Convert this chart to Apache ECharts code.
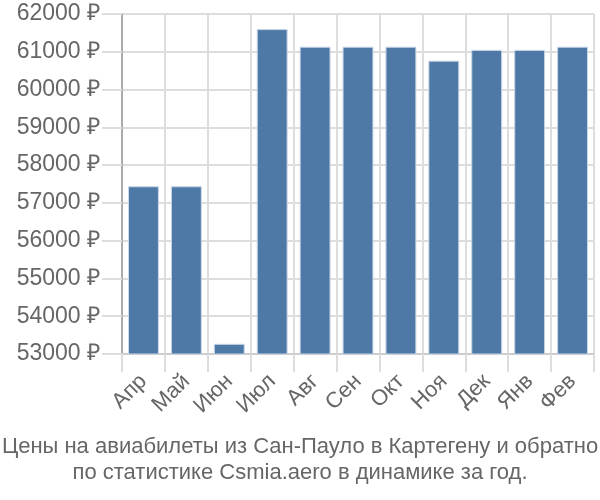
<!DOCTYPE html>
<html><head><meta charset="utf-8">
<script src="https://cdn.jsdelivr.net/npm/echarts@6/dist/echarts.min.js"></script>
<style>html,body{margin:0;padding:0;background:#fff}#c{width:600px;height:500px}</style>
</head><body><div id="c"></div>
<script>
const categories = ['Апр','Май','Июн','Июл','Авг','Сен','Окт','Ноя','Дек','Янв','Фев'];
const prices = [57440, 57440, 53270, 61600, 61135, 61135, 61135, 60765, 61050, 61050, 61135];
const titleLines = ['Цены на авиабилеты из Сан-Пауло в Картегену и обратно','по статистике Csmia.aero в динамике за год.'];
const yMin = 53000, yMax = 62000, yStep = 1000;

const chart = echarts.init(document.getElementById('c'), null, {renderer:'canvas'});
chart.setOption({
  animation:false,
  title:{
    text: titleLines.join('\n'),
    left: 300, top: 434, textAlign:'center', padding:0,
    textStyle:{fontFamily:'Liberation Sans, Arial, sans-serif', fontSize:22, fontWeight:'normal', color:'#666', lineHeight:26}
  },
  grid:{left:122, right:6, top:14, bottom:146, containLabel:false},
  xAxis:{
    type:'category', data:categories, boundaryGap:true,
    axisLine:{show:true, lineStyle:{color:'#ccc', width:2}},
    axisTick:{show:true, length:18, alignWithLabel:false, lineStyle:{color:'#ddd', width:2}},
    splitLine:{show:true, lineStyle:{color:'#ddd', width:2}},
    axisLabel:{rotate:45, margin:24, fontFamily:'Liberation Sans, Arial, sans-serif', fontSize:22, color:'#666', interval:0}
  },
  yAxis:{
    type:'value', min:yMin, max:yMax, interval:yStep,
    axisLine:{show:true, lineStyle:{color:'#aaa', width:2}},
    axisTick:{show:true, length:20, lineStyle:{color:'#ddd', width:2}},
    splitLine:{show:true, lineStyle:{color:'#ddd', width:2}},
    axisLabel:{margin:22, fontFamily:'Liberation Sans, Arial, sans-serif', fontSize:23, color:'#666', formatter: v => v + ' ₽'}
  },
  series:[{
    type:'bar', data:prices, barWidth:'72%',
    itemStyle:{color:'#4e79a7', borderColor:'#c8d6e6', borderWidth:1}
  }]
});
</script></body></html>
